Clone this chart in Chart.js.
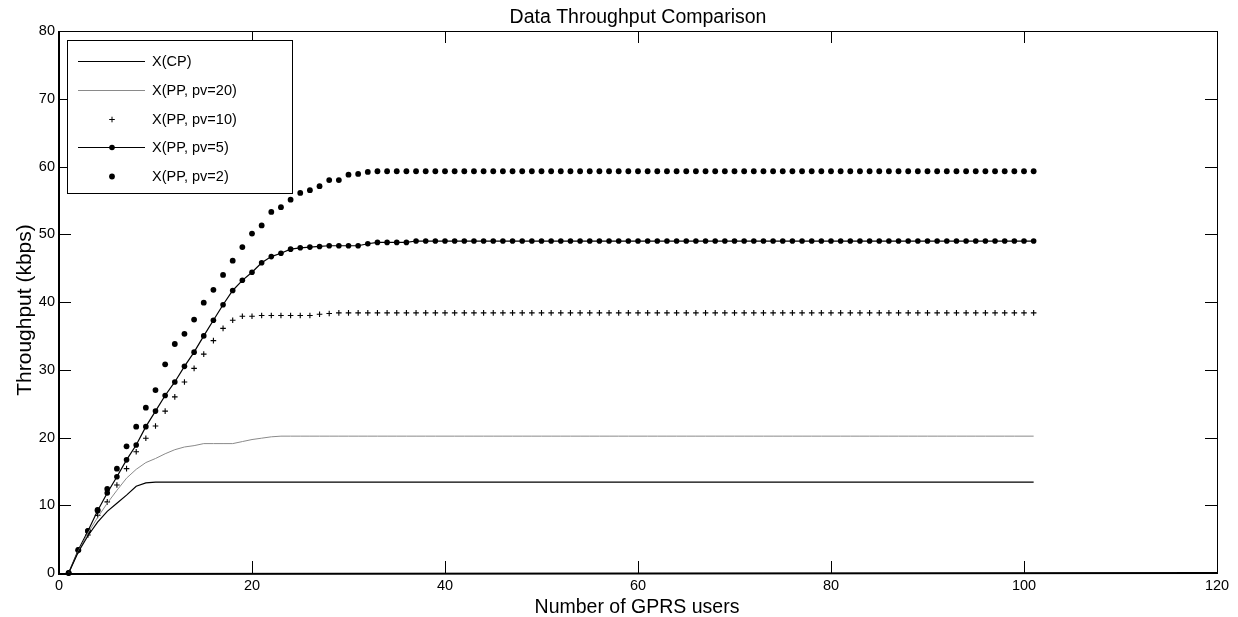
<!DOCTYPE html>
<html>
<head>
<meta charset="utf-8">
<script src="https://cdn.jsdelivr.net/npm/chart.js@4.4.1/dist/chart.umd.min.js"></script>
<style>
  html, body { margin: 0; padding: 0; background: #fff; }
  #c { display: block; }
</style>
</head>
<body>
<canvas id="c" width="1238" height="617" style="width:1238px;height:617px"></canvas>
<script>
// ---------------- data ----------------
const users = [
  1,2,3,4,5,6,7,8,9,10,
  11,12,13,14,15,16,17,18,19,20,
  21,22,23,24,25,26,27,28,29,30,
  31,32,33,34,35,36,37,38,39,40,
  41,42,43,44,45,46,47,48,49,50,
  51,52,53,54,55,56,57,58,59,60,
  61,62,63,64,65,66,67,68,69,70,
  71,72,73,74,75,76,77,78,79,80,
  81,82,83,84,85,86,87,88,89,90,
  91,92,93,94,95,96,97,98,99,100,
  101
];

const xCP = [
  0,3.1,5.5,7.5,9.1,10.3,11.5,12.8,13.3,13.4,
  13.4,13.4,13.4,13.4,13.4,13.4,13.4,13.4,13.4,13.4,
  13.4,13.4,13.4,13.4,13.4,13.4,13.4,13.4,13.4,13.4,
  13.4,13.4,13.4,13.4,13.4,13.4,13.4,13.4,13.4,13.4,
  13.4,13.4,13.4,13.4,13.4,13.4,13.4,13.4,13.4,13.4,
  13.4,13.4,13.4,13.4,13.4,13.4,13.4,13.4,13.4,13.4,
  13.4,13.4,13.4,13.4,13.4,13.4,13.4,13.4,13.4,13.4,
  13.4,13.4,13.4,13.4,13.4,13.4,13.4,13.4,13.4,13.4,
  13.4,13.4,13.4,13.4,13.4,13.4,13.4,13.4,13.4,13.4,
  13.4,13.4,13.4,13.4,13.4,13.4,13.4,13.4,13.4,13.4,
  13.4
];

const xPP20 = [
  0,3.2,5.9,8.2,10.3,12.2,14.0,15.3,16.3,16.9,
  17.6,18.2,18.6,18.8,19.1,19.1,19.1,19.1,19.4,19.7,
  19.9,20.1,20.2,20.2,20.2,20.2,20.2,20.2,20.2,20.2,
  20.2,20.2,20.2,20.2,20.2,20.2,20.2,20.2,20.2,20.2,
  20.2,20.2,20.2,20.2,20.2,20.2,20.2,20.2,20.2,20.2,
  20.2,20.2,20.2,20.2,20.2,20.2,20.2,20.2,20.2,20.2,
  20.2,20.2,20.2,20.2,20.2,20.2,20.2,20.2,20.2,20.2,
  20.2,20.2,20.2,20.2,20.2,20.2,20.2,20.2,20.2,20.2,
  20.2,20.2,20.2,20.2,20.2,20.2,20.2,20.2,20.2,20.2,
  20.2,20.2,20.2,20.2,20.2,20.2,20.2,20.2,20.2,20.2,
  20.2
];

const xPP10 = [
  0,3.3,5.6,8.5,10.5,13.0,15.4,17.9,19.9,21.7,
  23.9,26.0,28.2,30.2,32.3,34.3,36.1,37.3,37.9,37.9,
  38.0,38.0,38.0,38.0,38.0,38.0,38.2,38.3,38.4,38.4,
  38.4,38.4,38.4,38.4,38.4,38.4,38.4,38.4,38.4,38.4,
  38.4,38.4,38.4,38.4,38.4,38.4,38.4,38.4,38.4,38.4,
  38.4,38.4,38.4,38.4,38.4,38.4,38.4,38.4,38.4,38.4,
  38.4,38.4,38.4,38.4,38.4,38.4,38.4,38.4,38.4,38.4,
  38.4,38.4,38.4,38.4,38.4,38.4,38.4,38.4,38.4,38.4,
  38.4,38.4,38.4,38.4,38.4,38.4,38.4,38.4,38.4,38.4,
  38.4,38.4,38.4,38.4,38.4,38.4,38.4,38.4,38.4,38.4,
  38.4
];

const xPP5 = [
  0,3.4,6.2,9.2,11.8,14.2,16.7,18.9,21.6,23.9,
  26.2,28.2,30.5,32.6,35.0,37.3,39.6,41.7,43.2,44.4,
  45.8,46.7,47.2,47.8,48.0,48.1,48.2,48.3,48.3,48.3,
  48.3,48.6,48.8,48.8,48.8,48.8,49.0,49.0,49.0,49.0,
  49.0,49.0,49.0,49.0,49.0,49.0,49.0,49.0,49.0,49.0,
  49.0,49.0,49.0,49.0,49.0,49.0,49.0,49.0,49.0,49.0,
  49.0,49.0,49.0,49.0,49.0,49.0,49.0,49.0,49.0,49.0,
  49.0,49.0,49.0,49.0,49.0,49.0,49.0,49.0,49.0,49.0,
  49.0,49.0,49.0,49.0,49.0,49.0,49.0,49.0,49.0,49.0,
  49.0,49.0,49.0,49.0,49.0,49.0,49.0,49.0,49.0,49.0,
  49.0
];

const xPP2 = [
  0,3.4,6.2,9.3,12.4,15.4,18.7,21.6,24.4,27.0,
  30.8,33.8,35.3,37.4,39.9,41.8,44.0,46.1,48.1,50.1,
  51.3,53.3,54.0,55.1,56.1,56.5,57.1,58.0,58.0,58.8,
  58.9,59.2,59.3,59.3,59.3,59.3,59.3,59.3,59.3,59.3,
  59.3,59.3,59.3,59.3,59.3,59.3,59.3,59.3,59.3,59.3,
  59.3,59.3,59.3,59.3,59.3,59.3,59.3,59.3,59.3,59.3,
  59.3,59.3,59.3,59.3,59.3,59.3,59.3,59.3,59.3,59.3,
  59.3,59.3,59.3,59.3,59.3,59.3,59.3,59.3,59.3,59.3,
  59.3,59.3,59.3,59.3,59.3,59.3,59.3,59.3,59.3,59.3,
  59.3,59.3,59.3,59.3,59.3,59.3,59.3,59.3,59.3,59.3,
  59.3
];

const seriesLabels = ['X(CP)', 'X(PP, pv=20)', 'X(PP, pv=10)', 'X(PP, pv=5)', 'X(PP, pv=2)'];
const xTickStep = 20;
const yTickStep = 10;
const titleText = 'Data Throughput Comparison';
const xTitleText = 'Number of GPRS users';
const yTitleText = 'Throughput (kbps)';

// ---------------- chart ----------------
const FONT = '"Liberation Sans", Arial, Helvetica, sans-serif';
const pts = arr => users.map((u, i) => ({ x: u, y: arr[i] }));

const decorPlugin = {
  id: 'decor',
  afterDatasetsDraw(chart) {
    const { ctx, chartArea: a, scales: { x, y } } = chart;
    const TICK = 12;
    ctx.save();
    ctx.strokeStyle = '#000';
    // ticks (inward, all four sides)
    ctx.lineWidth = 1;
    ctx.beginPath();
    x.ticks.forEach(t => {
      const px = Math.round(x.getPixelForValue(t.value)) + 0.5;
      ctx.moveTo(px, a.bottom); ctx.lineTo(px, a.bottom - TICK);
      ctx.moveTo(px, a.top); ctx.lineTo(px, a.top + TICK);
    });
    y.ticks.forEach(t => {
      const py = Math.round(y.getPixelForValue(t.value)) + 0.5;
      ctx.moveTo(a.left, py); ctx.lineTo(a.left + TICK, py);
      ctx.moveTo(a.right, py); ctx.lineTo(a.right - TICK, py);
    });
    ctx.stroke();
    // frame
    ctx.lineWidth = 1;
    ctx.strokeRect(Math.round(a.left) + 0.5, Math.round(a.top) + 0.5,
                   Math.round(a.right - a.left), Math.round(a.bottom - a.top));
    ctx.lineWidth = 2;
    ctx.beginPath();
    ctx.moveTo(Math.round(a.left), a.top); ctx.lineTo(Math.round(a.left), a.bottom + 1);
    ctx.lineTo(a.right + 1, Math.round(a.bottom));
    ctx.stroke();

    // legend box
    const L = { left: 67, top: 40, right: 292, bottom: 193 };
    ctx.fillStyle = '#fff';
    ctx.fillRect(L.left, L.top, L.right - L.left, L.bottom - L.top);
    ctx.lineWidth = 1;
    ctx.strokeStyle = '#000';
    ctx.strokeRect(L.left + 0.5, L.top + 0.5, L.right - L.left, L.bottom - L.top);
    const rowY = [61, 90, 119, 147, 176];
    const s0 = 78, s1 = 145, sm = 112, tx = 152;
    chart.data.datasets.forEach((ds, i) => {
      const yy = rowY[i] + 0.5;
      if (ds.showLine !== false) {
        ctx.save();
        ctx.strokeStyle = ds.borderColor;
        ctx.lineWidth = 1;
        ctx.beginPath();
        ctx.moveTo(s0, yy); ctx.lineTo(s1, yy);
        ctx.stroke();
        ctx.restore();
      }
      if (ds.pointRadius > 0) {
        ctx.save();
        ctx.fillStyle = ds.pointBackgroundColor;
        ctx.strokeStyle = ds.pointBorderColor;
        Chart.helpers.drawPoint(ctx, {
          pointStyle: ds.pointStyle, radius: ds.pointRadius, rotation: 0,
          borderWidth: ds.pointBorderWidth
        }, sm, yy);
        ctx.restore();
      }
      ctx.fillStyle = '#000';
      ctx.font = '14.5px ' + FONT;
      ctx.textAlign = 'left';
      ctx.textBaseline = 'middle';
      ctx.fillText(ds.label, tx, yy + 0.5);
    });

    // titles
    ctx.fillStyle = '#000';
    ctx.textAlign = 'center';
    ctx.textBaseline = 'alphabetic';
    ctx.font = '19.5px ' + FONT;
    const cx = (a.left + a.right) / 2;
    ctx.fillText(titleText, cx, 22.7);
    ctx.fillText(xTitleText, cx - 1, 613.3);
    ctx.save();
    ctx.translate(30.5, 310);
    ctx.rotate(-Math.PI / 2);
    ctx.font = '21px ' + FONT;
    ctx.fillText(yTitleText, 0, 0);
    ctx.restore();
    ctx.restore();
  }
};

const tickFont = { family: FONT, size: 14.5 };

new Chart(document.getElementById('c'), {
  type: 'line',
  data: {
    datasets: [
      { label: seriesLabels[0], data: pts(xCP), borderColor: '#000', borderWidth: 1.2,
        pointRadius: 0, tension: 0, clip: false },
      { label: seriesLabels[1], data: pts(xPP20), borderColor: '#8a8a8a', borderWidth: 1,
        pointRadius: 0, tension: 0, clip: false },
      { label: seriesLabels[2], data: pts(xPP10), showLine: false, borderColor: '#000', borderWidth: 1,
        pointStyle: 'cross', pointRadius: 2.8, pointBorderWidth: 1.1,
        pointBorderColor: '#000', pointBackgroundColor: '#000', clip: false },
      { label: seriesLabels[3], data: pts(xPP5), borderColor: '#000', borderWidth: 1.2,
        pointStyle: 'circle', pointRadius: 2.8, pointBorderWidth: 0,
        pointBorderColor: '#000', pointBackgroundColor: '#000', tension: 0, clip: false },
      { label: seriesLabels[4], data: pts(xPP2), showLine: false, borderColor: '#000', borderWidth: 1,
        pointStyle: 'circle', pointRadius: 2.9, pointBorderWidth: 0,
        pointBorderColor: '#000', pointBackgroundColor: '#000', clip: false }
    ]
  },
  options: {
    responsive: false,
    animation: false,
    devicePixelRatio: 1,
    events: [],
    layout: { padding: { top: 31, right: 21, left: 0, bottom: 0 } },
    plugins: { legend: { display: false }, title: { display: false }, tooltip: { enabled: false } },
    scales: {
      x: {
        type: 'linear', min: 0, max: 120,
        ticks: { stepSize: xTickStep, color: '#000', font: tickFont, padding: 4,
                 maxRotation: 0, autoSkip: false },
        grid: { display: false, drawTicks: false },
        border: { display: false },
        afterFit(s) { s.height = 44; }
      },
      y: {
        type: 'linear', min: 0, max: 80,
        ticks: { stepSize: yTickStep, color: '#000', font: tickFont, padding: 4 },
        grid: { display: false, drawTicks: false },
        border: { display: false },
        afterFit(s) { s.width = 59; }
      }
    }
  },
  plugins: [decorPlugin]
});
</script>
</body>
</html>
